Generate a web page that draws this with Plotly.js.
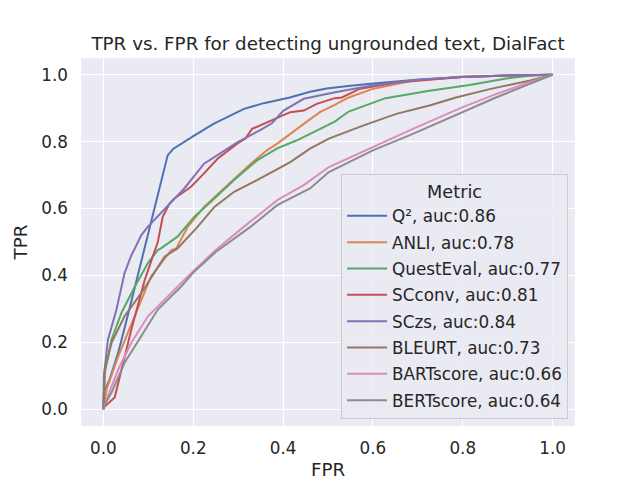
<!DOCTYPE html>
<html>
<head>
<meta charset="utf-8">
<script src="https://cdn.plot.ly/plotly-3.0.1.min.js"></script>
<style>
  html, body { margin: 0; padding: 0; background: #ffffff; }
  #roc-plot { width: 640px; height: 480px; }
</style>
</head>
<body>
<div id="roc-plot"></div>
<script>
// metric names and their AUC, in legend order
var metricNames = ['Q²', 'ANLI', 'QuestEval', 'SCconv', 'SCzs', 'BLEURT', 'BARTscore', 'BERTscore'];
var metricAuc = ['0.86', '0.78', '0.77', '0.81', '0.84', '0.73', '0.66', '0.64'];

// ROC points (FPR, TPR)
var q2Fpr = [0, 0.001, 0.014, 0.033, 0.055, 0.077, 0.095, 0.12, 0.143, 0.155, 0.173, 0.202, 0.245, 0.313, 0.357, 0.415, 0.46, 0.497, 0.545, 0.595, 0.697, 0.8, 0.9, 1];
var q2Tpr = [0, 0.05, 0.09, 0.17, 0.285, 0.4, 0.5, 0.635, 0.759, 0.778, 0.794, 0.818, 0.853, 0.898, 0.915, 0.932, 0.949, 0.959, 0.966, 0.973, 0.985, 0.993, 0.998, 1];

var anliFpr = [0, 0.007, 0.033, 0.07, 0.106, 0.151, 0.162, 0.188, 0.224, 0.276, 0.328, 0.364, 0.387, 0.446, 0.482, 0.515, 0.546, 0.598, 0.688, 0.8, 0.9, 1];
var anliTpr = [0, 0.06, 0.159, 0.278, 0.397, 0.476, 0.481, 0.546, 0.605, 0.67, 0.734, 0.774, 0.794, 0.853, 0.888, 0.91, 0.932, 0.957, 0.982, 0.995, 0.998, 1];

var questFpr = [0, 0.003, 0.018, 0.04, 0.07, 0.099, 0.121, 0.128, 0.165, 0.202, 0.247, 0.291, 0.342, 0.387, 0.431, 0.475, 0.515, 0.546, 0.628, 0.726, 0.815, 0.897, 0.948, 1];
var questTpr = [0, 0.109, 0.208, 0.288, 0.367, 0.437, 0.476, 0.481, 0.516, 0.575, 0.63, 0.685, 0.744, 0.78, 0.804, 0.833, 0.86, 0.89, 0.93, 0.952, 0.969, 0.989, 0.997, 1];

var scconvFpr = [0, 0.001, 0.025, 0.04, 0.062, 0.092, 0.121, 0.132, 0.147, 0.158, 0.195, 0.224, 0.254, 0.298, 0.316, 0.331, 0.357, 0.39, 0.416, 0.446, 0.475, 0.515, 0.531, 0.569, 0.652, 0.8, 0.9, 1];
var scconvTpr = [0, 0.006, 0.035, 0.119, 0.238, 0.387, 0.5, 0.575, 0.615, 0.63, 0.665, 0.705, 0.749, 0.794, 0.809, 0.838, 0.853, 0.873, 0.888, 0.893, 0.913, 0.93, 0.932, 0.957, 0.977, 0.993, 0.998, 1];

var sczsFpr = [0, 0.001, 0.01, 0.029, 0.047, 0.062, 0.07, 0.084, 0.099, 0.143, 0.18, 0.224, 0.254, 0.298, 0.35, 0.375, 0.401, 0.446, 0.513, 0.598, 0.7, 0.8, 0.9, 1];
var sczsTpr = [0, 0.1, 0.208, 0.298, 0.407, 0.46, 0.481, 0.52, 0.546, 0.608, 0.66, 0.734, 0.759, 0.798, 0.835, 0.855, 0.893, 0.928, 0.947, 0.968, 0.985, 0.993, 0.998, 1];

var bleurtFpr = [0, 0.003, 0.018, 0.047, 0.084, 0.136, 0.165, 0.21, 0.247, 0.291, 0.342, 0.387, 0.416, 0.46, 0.502, 0.578, 0.652, 0.726, 0.785, 0.86, 0.948, 1];
var bleurtTpr = [0, 0.119, 0.199, 0.278, 0.347, 0.456, 0.481, 0.546, 0.605, 0.65, 0.685, 0.719, 0.739, 0.779, 0.809, 0.848, 0.883, 0.908, 0.932, 0.957, 0.982, 1];

var bartFpr = [0, 0.01, 0.033, 0.062, 0.099, 0.151, 0.195, 0.25, 0.313, 0.387, 0.446, 0.502, 0.6, 0.689, 0.8, 0.874, 0.948, 1];
var bartTpr = [0, 0.04, 0.119, 0.199, 0.278, 0.347, 0.407, 0.476, 0.546, 0.625, 0.67, 0.724, 0.784, 0.838, 0.903, 0.942, 0.977, 1];

var bertFpr = [0, 0.001, 0.018, 0.047, 0.084, 0.121, 0.173, 0.199, 0.25, 0.328, 0.387, 0.46, 0.502, 0.6, 0.689, 0.8, 0.874, 0.948, 1];
var bertTpr = [0, 0.01, 0.05, 0.139, 0.218, 0.298, 0.367, 0.407, 0.47, 0.546, 0.61, 0.66, 0.709, 0.774, 0.823, 0.888, 0.932, 0.972, 1];

var tickVals = [0, 0.2, 0.4, 0.6, 0.8, 1.0];

function init_roc_plot(){
    var allFpr = [q2Fpr, anliFpr, questFpr, scconvFpr, sczsFpr, bleurtFpr, bartFpr, bertFpr];
    var allTpr = [q2Tpr, anliTpr, questTpr, scconvTpr, sczsTpr, bleurtTpr, bartTpr, bertTpr];
    // seaborn "deep" palette
    var colors = ['#4C72B0', '#DD8452', '#55A868', '#C44E52', '#8172B3', '#937860', '#DA8BC3', '#8C8C8C'];

    var data = [];
    for (var i = 0; i < metricNames.length; i++) {
        data.push({
            x: allFpr[i],
            y: allTpr[i],
            type: 'scatter',
            mode: 'lines',
            name: metricNames[i] + ', auc:' + metricAuc[i],
            legendgroup: 'g' + i,
            line: { color: colors[i], width: 2 }
        });
    }

    var axisCommon = {
        range: [-0.05, 1.05],
        tickvals: tickVals,
        tickformat: '.1f',
        showgrid: true,
        gridcolor: '#ffffff',
        gridwidth: 1,
        zeroline: false,
        showline: false,
        ticks: '',
        tickfont: { size: 16.8, color: '#262626' }
    };

    var layout = {
        width: 640,
        height: 480,
        font: { family: 'DejaVu Sans', color: '#262626' },
        paper_bgcolor: '#ffffff',
        plot_bgcolor: '#EAEAF2',
        margin: { l: 81, r: 65, t: 58, b: 54, pad: 0 },
        title: {
            text: 'TPR vs. FPR for detecting ungrounded text, DialFact',
            font: { size: 18.3, color: '#262626' },
            x: 0.5, xanchor: 'center', xref: 'paper',
            y: 0.91, yanchor: 'middle', yref: 'container'
        },
        xaxis: Object.assign({}, axisCommon, {
            ticklabelstandoff: 10,
            title: { text: 'FPR', font: { size: 18.3, color: '#262626' }, standoff: 6 }
        }),
        yaxis: Object.assign({}, axisCommon, {
            ticklabelstandoff: 12,
            title: { text: 'TPR', font: { size: 18.3, color: '#262626' }, standoff: 8 }
        }),
        showlegend: true,
        legend: {
            x: 0.986, xanchor: 'right',
            y: 0.018, yanchor: 'bottom',
            bgcolor: 'rgba(234,234,242,0.8)',
            bordercolor: '#CCCCCC',
            borderwidth: 1,
            font: { size: 16.8, color: '#262626' },
            title: { text: 'Metric', side: 'top center', font: { size: 17.7, color: '#262626' } },
            itemwidth: 40,
            tracegroupgap: 1.5
        }
    };

    var additional_param = {
        displayModeBar: false,
        staticPlot: true
    };

    var plotDiv = document.getElementById('roc-plot');
    if (plotDiv) {
        Plotly.newPlot('roc-plot', data, layout, additional_param);
    }
}

init_roc_plot();
</script>
</body>
</html>
